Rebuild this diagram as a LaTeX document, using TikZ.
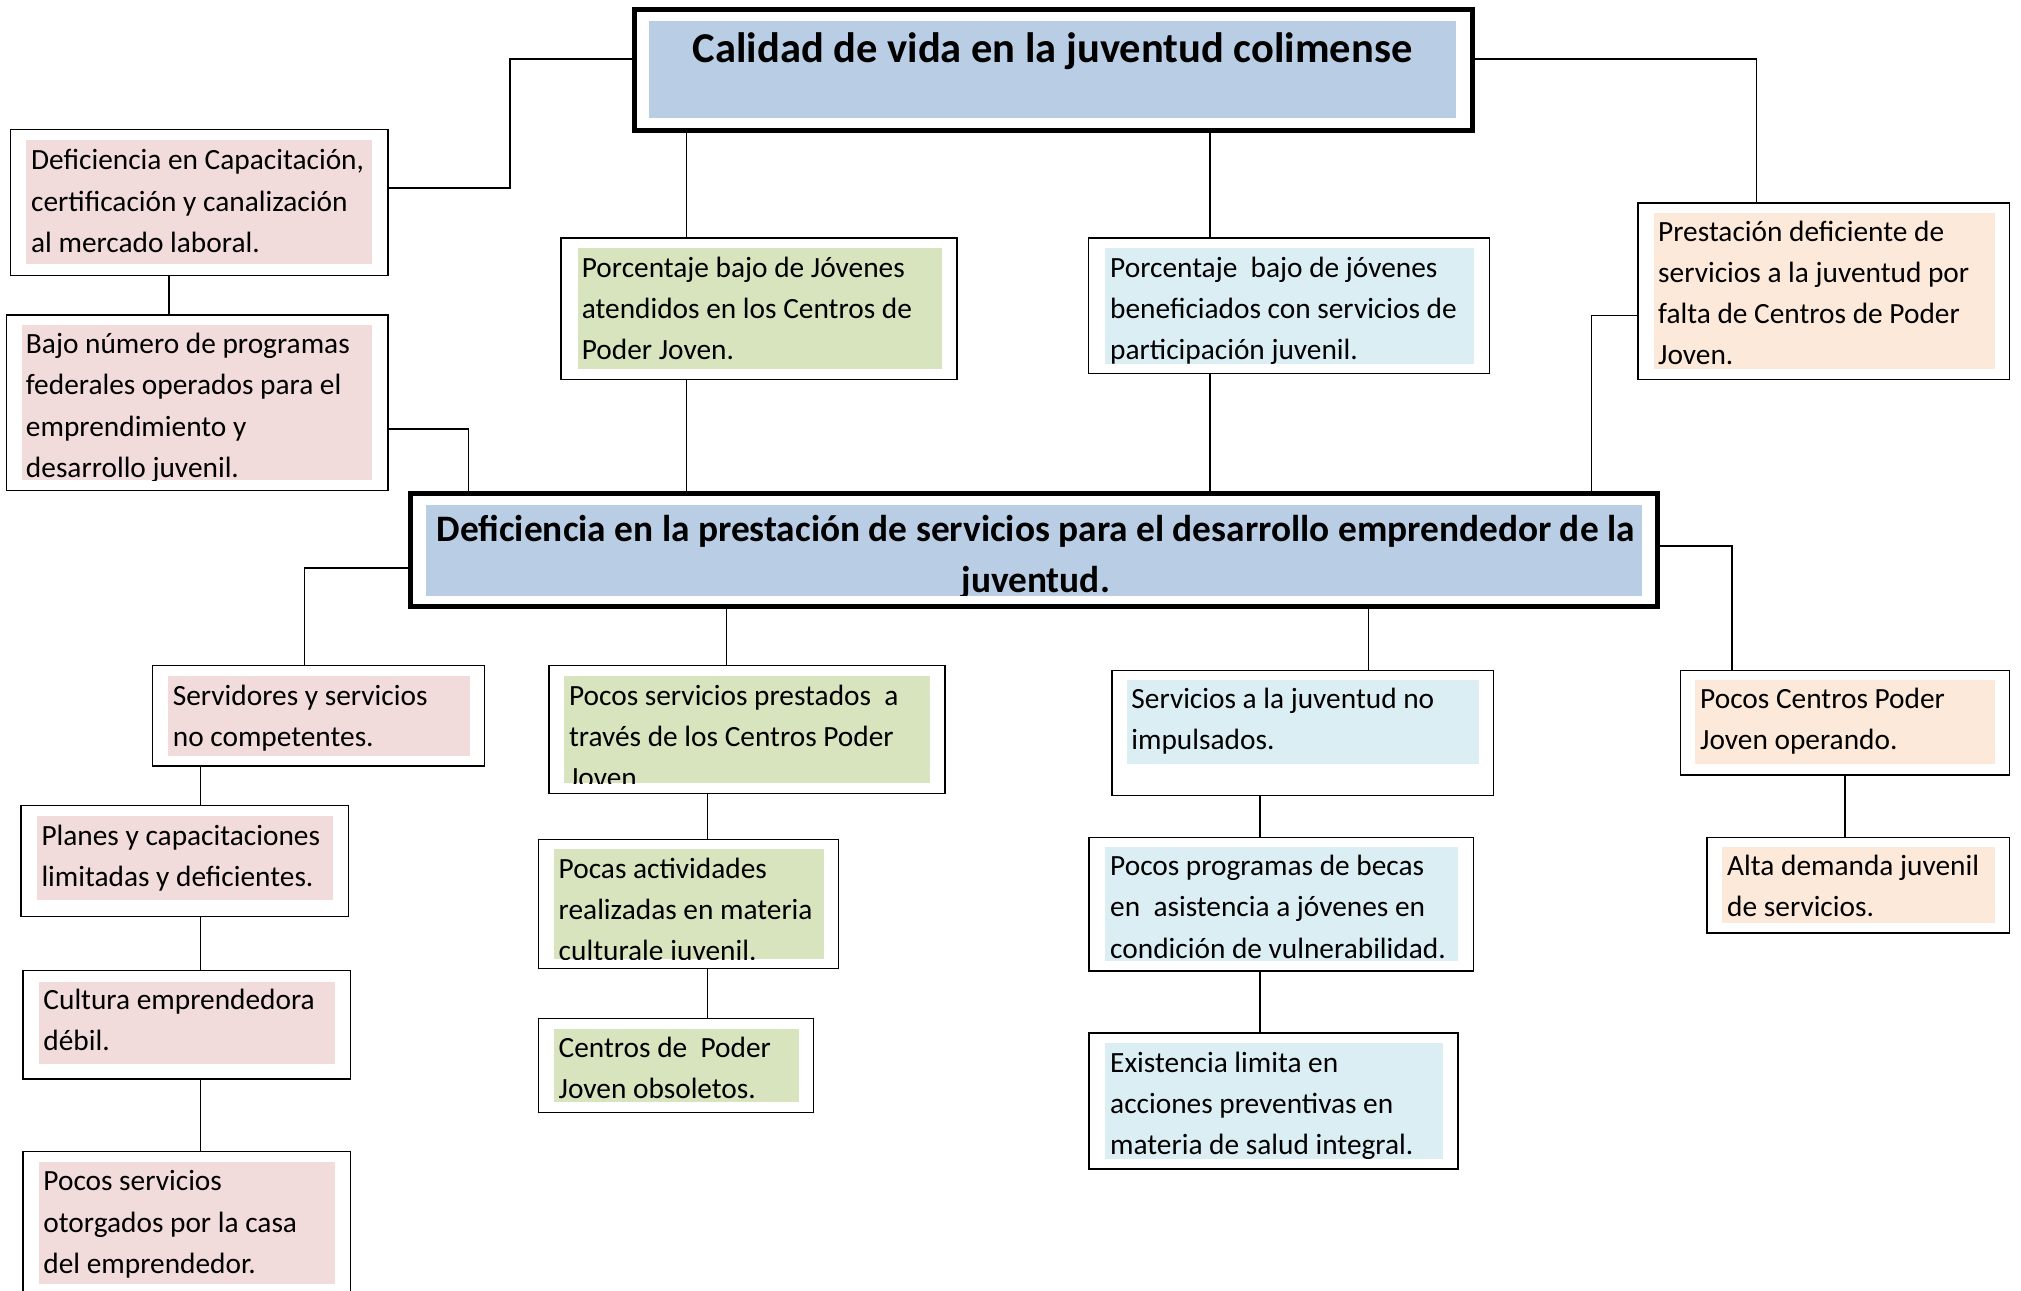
\documentclass[tikz,border=0pt]{standalone}
\usepackage{fontspec}
\setmainfont{Carlito}
\usetikzlibrary{fit}
\definecolor{hdrc}{RGB}{185,205,229}
\definecolor{pinkc}{RGB}{242,220,219}
\definecolor{greenc}{RGB}{215,228,189}
\definecolor{bluec}{RGB}{219,238,244}
\definecolor{peachc}{RGB}{253,233,217}
\tikzset{
  outerbox/.style={draw=black, line width=1.2pt, fill=white, inner sep=0pt},
  heavybox/.style={draw=black, line width=4pt, fill=white, inner sep=0pt},
  fillbox/.style={draw=none, inner sep=0pt},
  txt/.style={inner sep=0pt, anchor=base west, font=\fontsize{22.7}{27}\selectfont},
  conn/.style={draw=black, line width=1.2pt},
}
\newcommand{\cbox}[7]{%
  \node[outerbox, fit={#2}] (#1) {};
  \node[fillbox, fill=#4, fit={#3}] (#1F) {};
  \begin{scope}
    \clip (#1F.south west) rectangle (#1F.north east);
    \foreach \t [count=\i] in {#7} {\node[txt] (#1T\i) at (#5,{#6+1+31.8*(\i-1)}) {\t};}
  \end{scope}}
\begin{document}
\begin{tikzpicture}[x=1pt,y=-1pt]
\useasboundingbox[fill=white] (0,0) rectangle (1563,998.4);

% ---- header boxes
\node[heavybox, fit={(491,7.5) (1139,101)}] (top) {};
\node[fillbox, fill=hdrc, fit={(502,16) (1126,91)}] (topF) {};
\node[inner sep=0pt, anchor=base, font=\bfseries\fontsize{32.9}{40}\selectfont] (topT) at (814,48.7) {Calidad de vida en la juventud colimense};

\node[heavybox, fit={(317.3,381.4) (1281.7,469.2)}] (main) {};
\node[fillbox, fill=hdrc, fit={(329.3,390.7) (1269.8,460.6)}] (mainF) {};
\begin{scope}
  \clip (mainF.south west) rectangle (mainF.north east);
  \node[inner sep=0pt, anchor=base, font=\bfseries\fontsize{28.9}{36}\selectfont] (mainT1) at (801,418.8) {Deficiencia en la prestación de servicios para el desarrollo emprendedor de la};
  \node[inner sep=0pt, anchor=base, font=\bfseries\fontsize{28.9}{36}\selectfont] (mainT2) at (801,458.5) {juventud.};
\end{scope}

% ---- upper boxes
\cbox{defcap}{(8,100.2) (300,213.1)}{(19.9,108.2) (288,204.2)}{pinkc}{23.9}{130.4}{{Deficiencia en Capacitación,},{certificación y canalización},{al mercado laboral.}}
\cbox{bajo}{(5,243.7) (300,379.2)}{(17.4,251.3) (288,371.6)}{pinkc}{19.9}{272.6}{{Bajo número de programas},{federales operados para el},{emprendimiento y},{desarrollo juvenil.}}
\cbox{porcA}{(433.9,183.9) (740.3,293.6)}{(446.8,191.8) (728.8,285.7)}{greenc}{449.8}{213.8}{{Porcentaje bajo de Jóvenes},{atendidos en los Centros de},{Poder Joven.}}
\cbox{porcB}{(841.9,183.9) (1152.1,288.9)}{(854.4,191.8) (1140.1,281.5)}{bluec}{858.4}{213.8}{{Porcentaje\ \ bajo de jóvenes},{beneficiados con servicios de},{participación juvenil.}}
\cbox{prest}{(1266.8,156.8) (1554,293.6)}{(1278.8,164.8) (1542.5,285.7)}{peachc}{1282.2}{185.5}{{Prestación deficiente de},{servicios a la juventud por},{falta de Centros de Poder},{Joven.}}

% ---- lower boxes
\cbox{serv}{(118.1,514.7) (374.6,592.2)}{(130,522.7) (363.2,584.8)}{pinkc}{133.5}{544.4}{{Servidores y servicios},{no competentes.}}
\cbox{planes}{(16.4,623.1) (269.5,708.8)}{(28.4,631) (257.5,695.7)}{pinkc}{31.9}{652.7}{{Planes y capacitaciones},{limitadas y deficientes.}}
\cbox{cultura}{(17.9,750.5) (271,834.3)}{(29.9,759.1) (259,823.2)}{pinkc}{33.4}{779.8}{{Cultura emprendedora},{débil.}}
\cbox{otorg}{(17.9,890.7) (271,1010)}{(29.9,898.7) (259,993.3)}{pinkc}{33.4}{920}{{Pocos servicios},{otorgados por la casa},{del emprendedor.}}

\cbox{prestados}{(424.4,514.7) (730.8,613.5)}{(436.4,522.7) (719.3,605.9)}{greenc}{439.9}{544.4}{{Pocos servicios prestados\ \ a},{través de los Centros Poder},{Joven}}
\cbox{activ}{(416.5,649.2) (648.6,748.9)}{(428.4,656.5) (637.2,741.6)}{greenc}{431.9}{678.2}{{Pocas actividades},{realizadas en materia},{culturale juvenil.}}
\cbox{centros}{(416.5,787.8) (629.2,860.5)}{(428.4,795.8) (617.7,852.5)}{greenc}{431.9}{816.8}{{Centros de\ \ Poder},{Joven obsoletos.}}

\cbox{juv}{(859.9,518.6) (1155.1,615.1)}{(871.4,526.2) (1143.6,590.9)}{bluec}{874.8}{547.2}{{Servicios a la juventud no},{impulsados.}}
\cbox{becas}{(842.4,647.6) (1139.6,750.8)}{(854.4,654.9) (1127.2,742.9)}{bluec}{858.4}{676.3}{{Pocos programas de becas},{en\ \ asistencia a jóvenes en},{condición de vulnerabilidad.}}
\cbox{exist}{(842.4,799) (1127.7,904.1)}{(854.4,806.9) (1116.2,896.5)}{bluec}{858.4}{828.6}{{Existencia limita en},{acciones preventivas en},{materia de salud integral.}}

\cbox{pc}{(1299.7,518.6) (1554,599.2)}{(1311.2,526.2) (1542.5,590.9)}{peachc}{1314.7}{547.2}{{Pocos Centros Poder},{Joven operando.}}
\cbox{alta}{(1320.1,647.6) (1554,721.5)}{(1331.6,654.9) (1542.5,714.2)}{peachc}{1335.6}{676.3}{{Alta demanda juvenil},{de servicios.}}

% ---- junction coordinates
\coordinate (jA) at (394.5,45.5);
\coordinate (jB) at (394.5,145.4);
\coordinate (jC) at (130.5,0);
\coordinate (jD) at (362.2,331.8);
\coordinate (jE) at (531,0);
\coordinate (jF) at (935.7,0);
\coordinate (jG) at (1358.5,45.5);
\coordinate (jH) at (1230.9,244);
\coordinate (jI) at (235.6,439.3);
\coordinate (jJ) at (154.9,0);
\coordinate (jK) at (562,0);
\coordinate (jL) at (547,0);
\coordinate (jM) at (1058.4,0);
\coordinate (jN) at (974.6,0);
\coordinate (jO) at (1339.6,422.2);
\coordinate (jP) at (1426.9,0);

% ---- connectors
\draw[conn] (top.west |- jA) -- (jA) -- (jB) -- (defcap.east |- jB);
\draw[conn] (defcap.south -| jC) -- (bajo.north -| jC);
\draw[conn] (bajo.east |- jD) -- (jD) -- (main.north -| jD);
\draw[conn] (top.south -| jE) -- (porcA.north -| jE);
\draw[conn] (porcA.south -| jE) -- (main.north -| jE);
\draw[conn] (top.south -| jF) -- (porcB.north -| jF);
\draw[conn] (porcB.south -| jF) -- (main.north -| jF);
\draw[conn] (top.east |- jG) -- (jG) -- (prest.north -| jG);
\draw[conn] (prest.west |- jH) -- (jH) -- (main.north -| jH);
\draw[conn] (main.west |- jI) -- (jI) -- (serv.north -| jI);
\draw[conn] (serv.south -| jJ) -- (planes.north -| jJ);
\draw[conn] (planes.south -| jJ) -- (cultura.north -| jJ);
\draw[conn] (cultura.south -| jJ) -- (otorg.north -| jJ);
\draw[conn] (main.south -| jK) -- (prestados.north -| jK);
\draw[conn] (prestados.south -| jL) -- (activ.north -| jL);
\draw[conn] (activ.south -| jL) -- (centros.north -| jL);
\draw[conn] (main.south -| jM) -- (juv.north -| jM);
\draw[conn] (juv.south -| jN) -- (becas.north -| jN);
\draw[conn] (becas.south -| jN) -- (exist.north -| jN);
\draw[conn] (main.east |- jO) -- (jO) -- (pc.north -| jO);
\draw[conn] (pc.south -| jP) -- (alta.north -| jP);
\end{tikzpicture}
\end{document}
